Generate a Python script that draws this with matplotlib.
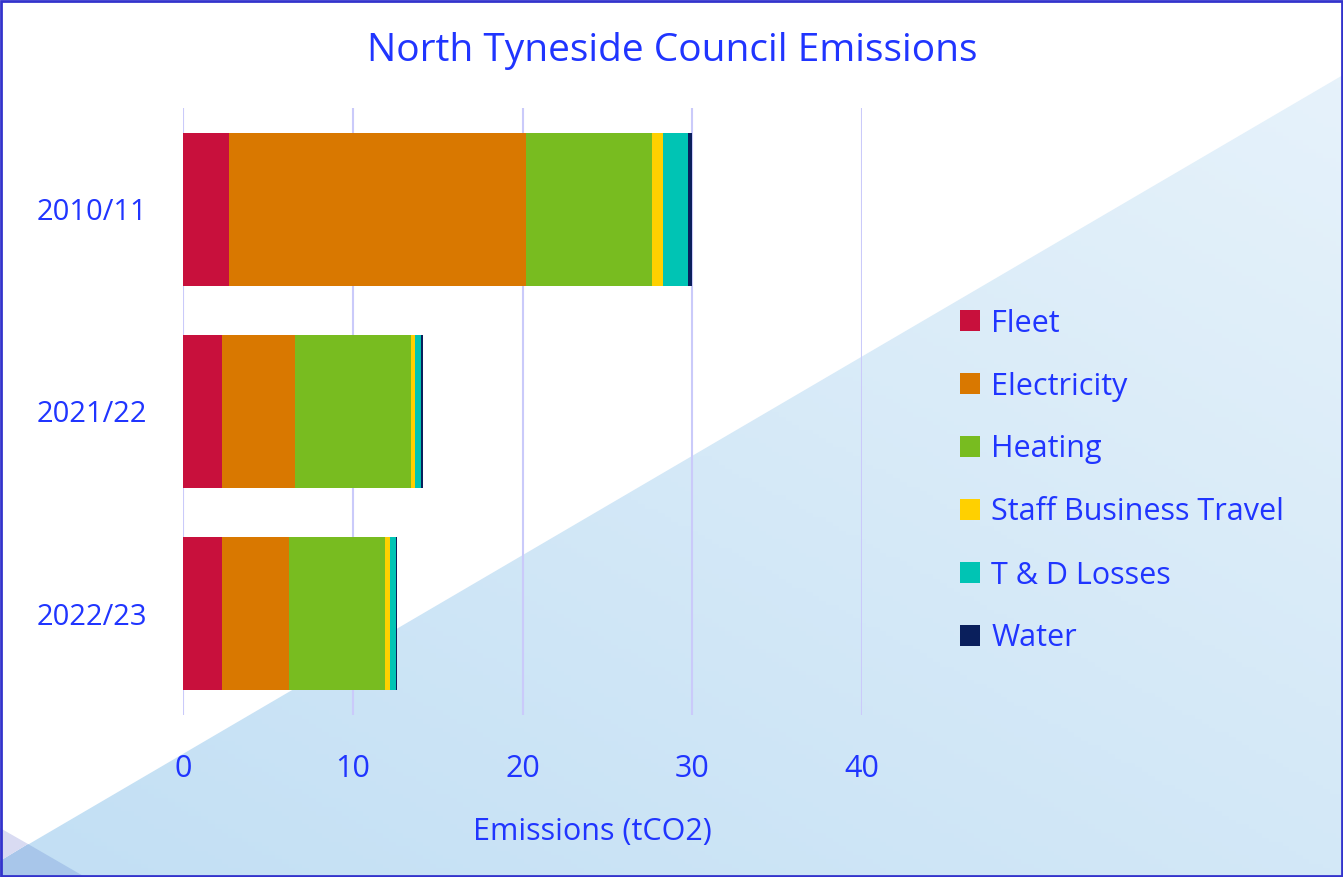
import matplotlib.pyplot as plt
import numpy as np
from matplotlib.patches import Patch, Polygon

years = ["2010/11", "2021/22", "2022/23"]
categories = ["Fleet", "Electricity", "Heating", "Staff Business Travel", "T & D Losses", "Water"]
fleet = [2.7, 2.3, 2.3]
electricity = [17.5, 4.3, 3.95]
heating = [7.45, 6.82, 5.65]
staff_travel = [0.65, 0.23, 0.3]
td_losses = [1.45, 0.39, 0.35]
water = [0.25, 0.1, 0.08]
x_ticks = [0, 10, 20, 30, 40]

colors = ["#c8103c", "#d97800", "#78bc20", "#ffd000", "#00c4b4", "#0a1f5c"]
text_color = "#2035ff"
W, H = 1343, 877

plt.rcParams["font.family"] = ["Open Sans", "DejaVu Sans"]
fig = plt.figure(figsize=(W / 100, H / 100), dpi=100)

# background: white with a light blue diagonal wedge
bg = fig.add_axes([0, 0, 1, 1], zorder=0)
bg.set_xlim(0, W)
bg.set_ylim(H, 0)
bg.axis("off")
wedge = Polygon([(0, 861), (W, 75), (W, H), (0, H)], closed=True, facecolor="none", edgecolor="none")
bg.add_patch(wedge)
gy, gx = np.mgrid[0:1:200j, 0:1:200j]
grad = 0.55 * gy + 0.45 * (1 - gx)
cmap = plt.matplotlib.colors.LinearSegmentedColormap.from_list("bgc", ["#e8f3fb", "#c2dff4"])
img = bg.imshow(grad, extent=[0, W, H, 0], cmap=cmap, aspect="auto", zorder=0)
img.set_clip_path(wedge)
bg.add_patch(Polygon([(0, 861), (28, 844), (85, H), (0, H)], closed=True, facecolor="#a8c6ea", edgecolor="none", zorder=1))
bg.add_patch(Polygon([(0, 828), (28, 844), (0, 861)], closed=True, facecolor="#d9dbf2", edgecolor="none", zorder=1))
bg.add_patch(plt.Rectangle((1, 1), W - 2.5, H - 2.5, facecolor="none", edgecolor="#3333cc", linewidth=2, zorder=3))

ax = fig.add_axes([183 / W, 1 - 715 / H, (862 - 183) / W, (715 - 108) / H], zorder=1)
ax.patch.set_alpha(0)
y = np.arange(len(years))
left = np.zeros(len(years))
series = [fleet, electricity, heating, staff_travel, td_losses, water]
for vals, col, lab in zip(series, colors, categories):
    ax.barh(y, vals, left=left, height=0.755, color=col, label=lab, zorder=2)
    left += np.array(vals)

ax.set_xlim(0, 40)
ax.set_ylim(2.5, -0.5)
ax.set_xticks(x_ticks)
ax.set_yticks(y)
ax.set_yticklabels(years)
ax.tick_params(axis="both", length=0, labelcolor=text_color)
ax.tick_params(axis="x", pad=28, labelsize=22)
ax.tick_params(axis="y", pad=26, labelsize=21)
ax.grid(axis="x", color="#cacafa", linewidth=1.5, zorder=0)
for s in ax.spines.values():
    s.set_visible(False)

fig.text(672 / W, 1 - 51 / H, "North Tyneside Council Emissions", ha="center", va="center",
         fontsize=28, color=text_color)
fig.text(592 / W, 1 - 832 / H, "Emissions (tCO2)", ha="center", va="center",
         fontsize=22, color=text_color)

handles = [Patch(facecolor=c, edgecolor="none") for c in colors]
fig.legend(handles, categories, loc="upper left", bbox_to_anchor=(932 / W, 1 - 281 / H),
           frameon=False, fontsize=22, labelcolor=text_color, handlelength=0.66,
           handleheight=0.66, handletextpad=0.38, labelspacing=1.08)

fig.savefig("out.png", dpi=100)
